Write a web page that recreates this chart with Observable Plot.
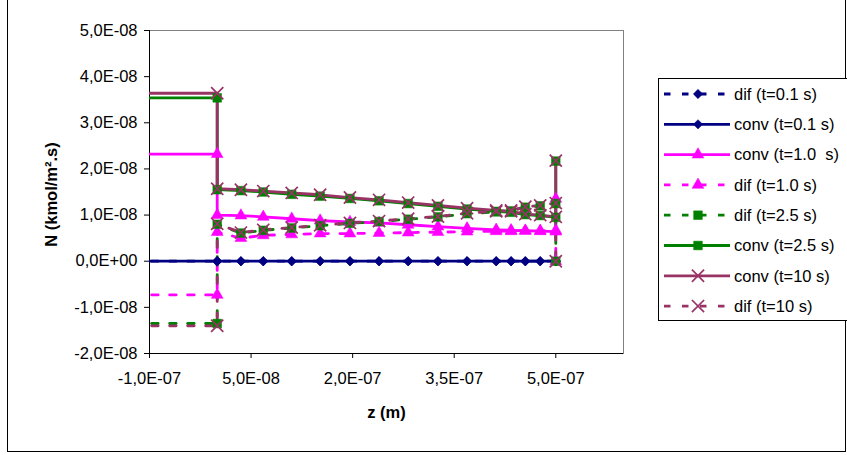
<!DOCTYPE html>
<html><head><meta charset="utf-8">
<script src="https://cdn.jsdelivr.net/npm/d3@7"></script>
<script src="https://cdn.jsdelivr.net/npm/@observablehq/plot@0.6"></script>
<style>
body{margin:0;background:#fff;}
#chart{position:relative;width:847px;height:455px;overflow:hidden;font-family:Arial,"Liberation Sans",sans-serif;background:#fff;}
#chart svg.plot{position:absolute;left:0;top:0;}
#border{position:absolute;left:7px;top:-1px;width:839px;height:453px;border:1px solid #000;box-sizing:border-box;pointer-events:none;}
#legend{position:absolute;left:658px;top:78px;width:200px;height:243px;border:1px solid #000;box-sizing:border-box;background:#fff;}
#legend svg{position:absolute;left:0;top:0;}
</style></head><body><div id="chart"><div id="border"></div></div><script>
// z positions (m)
const zValues = [-1.5e-7, 0, 0, 0.35e-7, 0.68e-7, 1.1e-7, 1.52e-7, 1.96e-7, 2.39e-7, 2.82e-7, 3.26e-7, 3.69e-7, 4.12e-7, 4.34e-7, 4.55e-7, 4.77e-7, 5e-7, 5e-7];
// N values (kmol/m2.s)
const difT01  = [0, 0, 0, 0, 0, 0, 0, 0, 0, 0, 0, 0, 0, 0, 0, 0, 0, 0];
const convT01 = [0, 0, 0, 0, 0, 0, 0, 0, 0, 0, 0, 0, 0, 0, 0, 0, 0, 0];
const convT1  = [2.32e-8, 2.32e-8, 1.00e-8, 0.99e-8, 0.96e-8, 0.92e-8, 0.88e-8, 0.85e-8, 0.83e-8, 0.79e-8, 0.75e-8, 0.71e-8, 0.68e-8, 0.67e-8, 0.66e-8, 0.65e-8, 0.64e-8, 1.35e-8];
const difT1   = [-0.73e-8, -0.73e-8, 0.63e-8, 0.50e-8, 0.56e-8, 0.58e-8, 0.60e-8, 0.60e-8, 0.61e-8, 0.62e-8, 0.63e-8, 0.64e-8, 0.65e-8, 0.65e-8, 0.66e-8, 0.66e-8, 0.67e-8, 0];
const difT25  = [-1.35e-8, -1.35e-8, 0.80e-8, 0.61e-8, 0.67e-8, 0.72e-8, 0.77e-8, 0.82e-8, 0.86e-8, 0.91e-8, 0.96e-8, 1.03e-8, 1.07e-8, 1.09e-8, 1.17e-8, 1.20e-8, 1.25e-8, 0];
const convT25 = [3.54e-8, 3.54e-8, 1.55e-8, 1.53e-8, 1.50e-8, 1.45e-8, 1.41e-8, 1.36e-8, 1.31e-8, 1.25e-8, 1.19e-8, 1.13e-8, 1.08e-8, 1.06e-8, 1.01e-8, 0.99e-8, 0.95e-8, 2.17e-8];
const convT10 = [3.64e-8, 3.64e-8, 1.57e-8, 1.55e-8, 1.52e-8, 1.48e-8, 1.44e-8, 1.38e-8, 1.33e-8, 1.27e-8, 1.21e-8, 1.15e-8, 1.10e-8, 1.08e-8, 1.02e-8, 1.00e-8, 0.96e-8, 2.18e-8];
const difT10  = [-1.40e-8, -1.40e-8, 0.81e-8, 0.62e-8, 0.68e-8, 0.73e-8, 0.78e-8, 0.83e-8, 0.87e-8, 0.92e-8, 0.97e-8, 1.04e-8, 1.08e-8, 1.10e-8, 1.18e-8, 1.21e-8, 1.26e-8, 0];

const seriesLabels = ["dif (t=0.1 s)", "conv (t=0.1 s)", "conv (t=1.0  s)", "dif (t=1.0 s)", "dif (t=2.5 s)", "conv (t=2.5 s)", "conv (t=10 s)", "dif (t=10 s)"];
const seriesValues = [difT01, convT01, convT1, difT1, difT25, convT25, convT10, difT10];
const seriesColors = ["#000080", "#000080", "#FF00FF", "#FF00FF", "#008000", "#008000", "#993366", "#993366"];
const seriesDashed = [true, false, false, true, true, false, false, true];
const seriesSymbols = ["diamond2", "diamond2", "triangle", "triangle", "square", "square", "times", "times"];

const xTicks = [-1e-7, 0.5e-7, 2e-7, 3.5e-7, 5e-7];
const yTicks = [-2e-8, -1e-8, 0, 1e-8, 2e-8, 3e-8, 4e-8, 5e-8];
const xTitle = "z (m)";
const yTitle = "N (kmol/m².s)";

const symbolR = {diamond2: 4.2, triangle: 4.4, square: 4.9, times: 5.6};
const dash = "6.5,11.5";

function formatE(d) {
  if (d === 0) return "0,0E+00";
  const [m, e] = d.toExponential(1).split("e");
  const ei = +e;
  return m.replace(".", ",") + "E" + (ei < 0 ? "-" : "+") + String(Math.abs(ei)).padStart(2, "0");
}

const tables = seriesValues.map((vals, s) => vals.map((v, i) => ({z: zValues[i], n: v, s})));

const lineMarks = tables.map((t, s) => Plot.line(t, {
  x: "z", y: "n", stroke: seriesColors[s], strokeWidth: 2.8,
  strokeDasharray: seriesDashed[s] ? dash : null, clip: true, curve: "linear"
}));
const dotMarks = tables.map((t, s) => {
  const sym = seriesSymbols[s];
  const filled = sym !== "times";
  return Plot.dot(t, {
    x: "z", y: "n", symbol: () => sym, r: symbolR[sym],
    fill: filled ? seriesColors[s] : "none",
    stroke: seriesColors[s], strokeWidth: filled ? 0.5 : 1.7, clip: true
  });
});

const plot = Plot.plot({
  width: 847, height: 455,
  marginLeft: 149, marginRight: 224, marginTop: 30, marginBottom: 102,
  style: {fontFamily: 'Arial, "Liberation Sans", sans-serif', fontSize: "16.5px", color: "#000", background: "transparent", overflow: "visible"},
  x: {domain: [-1e-7, 6e-7], ticks: xTicks, tickFormat: formatE, tickSize: 5, tickPadding: 14, label: null},
  y: {domain: [-2e-8, 5e-8], ticks: yTicks, tickFormat: formatE, tickSize: 5, tickPadding: 7, label: null},
  marks: [
    Plot.frame({stroke: "#808080"}),
    Plot.ruleX([-1e-7], {stroke: "#000"}),
    Plot.ruleY([-2e-8], {stroke: "#000"}),
    ...lineMarks,
    ...dotMarks,
    Plot.text([xTitle], {frameAnchor: "bottom", dy: 59, text: d => d, textAnchor: "middle", lineAnchor: "middle", fontWeight: "bold", fontSize: 16.5}),
    Plot.text([yTitle], {frameAnchor: "left", dx: -98, dy: 2.5, text: d => d, rotate: -90, textAnchor: "middle", lineAnchor: "middle", fontWeight: "bold", fontSize: 16.5})
  ]
});
plot.classList.add("plot");
const chart = document.getElementById("chart");
chart.insertBefore(plot, chart.firstChild);

// legend
const legend = document.createElement("div");
legend.id = "legend";
chart.appendChild(legend);
const lsvg = d3.select(legend).append("svg").attr("width", 200).attr("height", 243);
const rowH = 30.3, row0 = 15;
const symMap = {diamond2: d3.symbolDiamond2, triangle: d3.symbolTriangle, square: d3.symbolSquare, times: d3.symbolTimes};
seriesLabels.forEach((lab, s) => {
  const y = row0 + s * rowH;
  const g = lsvg.append("g");
  g.append("line").attr("x1", 5).attr("x2", 71).attr("y1", y).attr("y2", y)
    .attr("stroke", seriesColors[s]).attr("stroke-width", 2.8)
    .attr("stroke-dasharray", seriesDashed[s] ? dash : null);
  const sym = seriesSymbols[s];
  const r = symbolR[sym];
  g.append("path").attr("transform", `translate(39,${y})`)
    .attr("d", d3.symbol(symMap[sym], Math.PI * r * r)())
    .attr("fill", sym === "times" ? "none" : seriesColors[s])
    .attr("stroke", seriesColors[s]).attr("stroke-width", sym === "times" ? 1.7 : 0.5);
  g.append("text").attr("x", 75).attr("y", y).attr("dy", "0.35em")
    .attr("font-family", 'Arial, "Liberation Sans", sans-serif').attr("font-size", 16.5)
    .attr("xml:space", "preserve").style("white-space", "pre").text(lab);
});
</script></body></html>
